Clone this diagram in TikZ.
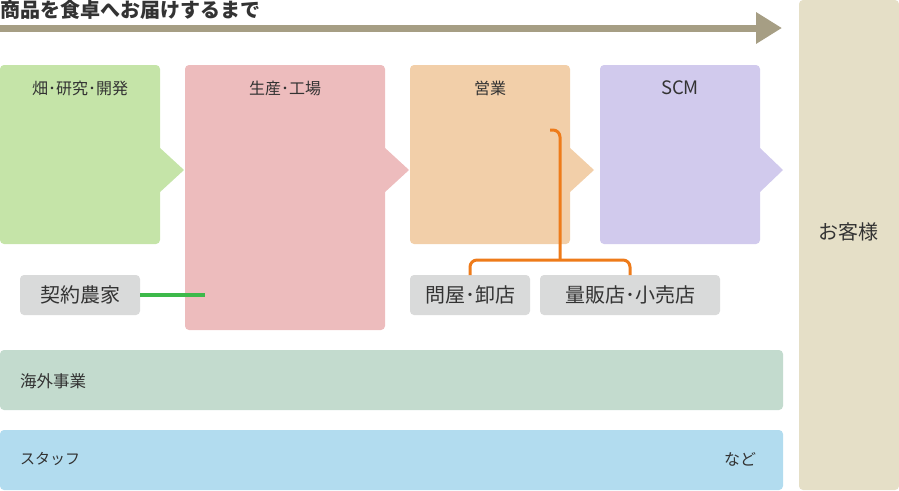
\documentclass[tikz,border=0pt]{standalone}
\usepackage{fontspec}
\setmainfont{Noto Sans CJK JP}
\usetikzlibrary{arrows.meta}
\definecolor{flowgray}{HTML}{A69E84}
\definecolor{fieldgreen}{HTML}{C5E4A8}
\definecolor{plantpink}{HTML}{EDBCBD}
\definecolor{salesorange}{HTML}{F2CFA9}
\definecolor{scmpurple}{HTML}{D1CAED}
\definecolor{custbeige}{HTML}{E5DFC7}
\definecolor{partgray}{HTML}{D9DADA}
\definecolor{overseas}{HTML}{C3DBCE}
\definecolor{staffblue}{HTML}{B2DCEF}
\definecolor{farmgreen}{HTML}{3DB94A}
\definecolor{salesline}{HTML}{EE7B1A}
\definecolor{txt}{HTML}{333333}

\begin{document}
\begin{tikzpicture}[x=1pt,y=-1pt,
  area/.style={rounded corners=4, inner sep=0, outer sep=0},
  lbl/.style={text=txt, font=\fontsize{16}{18}\selectfont, inner sep=0},
  part/.style={area, fill=partgray, minimum height=40, text=txt, font=\fontsize{20}{22}\selectfont},
  link/.style={line width=3.5}]
  \useasboundingbox (0,0) rectangle (899,490);

  \node[anchor=west, text=txt, font=\fontsize{20}{22}\selectfont\bfseries, inner sep=0] (title) at (0,10) {商品を食卓へお届けするまで};
  \coordinate (flowstart) at (0,28);
  \coordinate (flowend) at (782,28);
  \draw[flowgray, line width=7, -{Triangle[length=26,width=30]}] (flowstart) -- (flowend);

  \node[area, fill=fieldgreen, minimum width=160, minimum height=179] (field) at (80,154.5) {};
  \fill[fieldgreen] (159,147) -- (184,170) -- (159,193) -- cycle;
  \node[lbl] (fieldlbl) at (80,88) {畑･研究･開発};

  \node[area, fill=plantpink, minimum width=200, minimum height=265] (plant) at (285,197.5) {};
  \fill[plantpink] (384,147) -- (409,170) -- (384,193) -- cycle;
  \node[lbl] (plantlbl) at (285,88) {生産･工場};

  \node[area, fill=salesorange, minimum width=160, minimum height=179] (sales) at (490,154.5) {};
  \fill[salesorange] (569,147) -- (594,170) -- (569,193) -- cycle;
  \node[lbl] (saleslbl) at (490,88) {営業};

  \node[area, fill=scmpurple, minimum width=160, minimum height=179] (scm) at (680,154.5) {};
  \fill[scmpurple] (759,147) -- (783,170) -- (759,193) -- cycle;
  \node[lbl, font=\fontsize{18.5}{20}\selectfont] (scmlbl) at (680,88) {SCM};

  \node[area, fill=custbeige, minimum width=100, minimum height=490] (cust) at (849,245) {};
  \node[lbl, font=\fontsize{20}{22}\selectfont] (custlbl) at (848,232) {お客様};

  \node[part, minimum width=120] (farm) at (80,295) {契約農家};
  \node[part, minimum width=120] (wholesale) at (470,295) {問屋･卸店};
  \node[part, minimum width=180] (retail) at (630,295) {量販店･小売店};

  \coordinate (farmend) at (205,295);
  \draw[link, farmgreen] (farm.east) -- (farmend);

  \coordinate (salesstart) at (550,130);
  \coordinate (salesbend) at (560,130);
  \coordinate (salessplit) at (560,260);
  \draw[link, salesline, line width=3, rounded corners=7] (salesstart) -- (salesbend) -- (salessplit);
  \draw[link, salesline, line width=3, rounded corners=7] (wholesale.north) -- (wholesale.north |- salessplit) -- (retail.north |- salessplit) -- (retail.north);

  \node[area, fill=overseas, minimum width=783, minimum height=60] (abroad) at (391.5,380) {};
  \node[lbl, font=\fontsize{16.5}{18}\selectfont, anchor=west] (abroadlbl) at (20,381) {海外事業};

  \node[area, fill=staffblue, minimum width=783, minimum height=60] (staff) at (391.5,460) {};
  \node[lbl, font=\fontsize{15}{17}\selectfont, anchor=west] (stafflbl) at (20,459) {スタッフ};
  \node[lbl] (etclbl) at (740,459) {など};
\end{tikzpicture}
\end{document}
